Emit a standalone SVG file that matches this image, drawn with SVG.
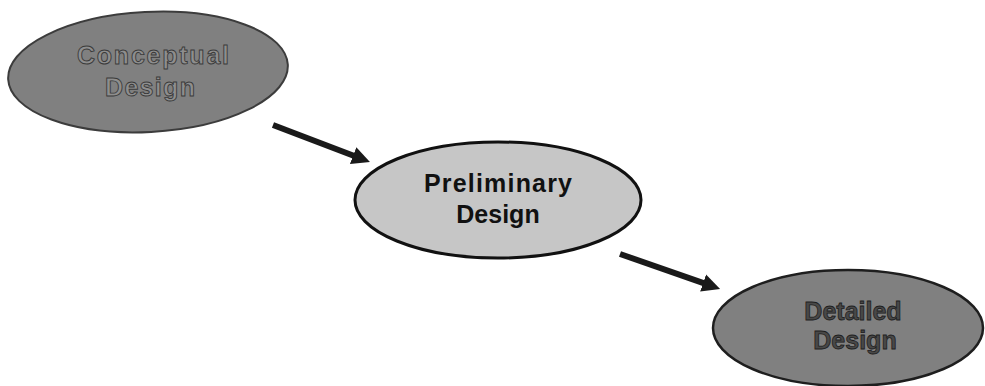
<svg xmlns="http://www.w3.org/2000/svg" width="985" height="386" viewBox="0 0 985 386">
  <style>
    .label { font-family: "Liberation Sans", Arial, sans-serif; font-weight: bold; font-size: 25px; text-anchor: middle; }
    .dark-node { fill: #808080; }
    .light-node { fill: #c6c6c6; stroke: #111; stroke-width: 3; }
    .flow { stroke: #1a1a1a; stroke-width: 6; fill: none; marker-end: url(#head); }
  </style>
  <defs>
    <marker id="head" markerUnits="userSpaceOnUse" markerWidth="20" markerHeight="20" refX="2" refY="10" orient="auto" viewBox="0 0 20 20">
      <path d="M0,1 L18,10 L0,19 Z" fill="#1a1a1a"/>
    </marker>
  </defs>

  <!-- Design stages -->
  <g id="conceptual-design">
    <ellipse class="dark-node" cx="148" cy="72" rx="140" ry="60" transform="rotate(-3 148 72)" stroke="#3c3c3c" stroke-width="2"/>
    <text class="label" x="153" y="64" fill="#8e8e8e" stroke="#3a3a3a" stroke-width="0.9" textLength="152" lengthAdjust="spacing">Conceptual</text>
    <text class="label" x="150" y="96" fill="#8e8e8e" stroke="#3a3a3a" stroke-width="0.9" textLength="90" lengthAdjust="spacing">Design</text>
  </g>

  <g id="preliminary-design">
    <ellipse class="light-node" cx="498" cy="200" rx="143" ry="58"/>
    <text class="label" x="498" y="192" fill="#111" font-size="26" textLength="148" lengthAdjust="spacing">Preliminary</text>
    <text class="label" x="498" y="223" fill="#111" font-size="26">Design</text>
  </g>

  <g id="detailed-design">
    <ellipse class="dark-node" cx="848" cy="328" rx="135" ry="58" stroke="#1e1e1e" stroke-width="2.5"/>
    <text class="label" x="853" y="320" fill="#484848" stroke="#1e1e1e" stroke-width="0.8" font-size="26">Detailed</text>
    <text class="label" x="855" y="349" fill="#484848" stroke="#1e1e1e" stroke-width="0.8" font-size="26">Design</text>
  </g>

  <!-- Connectors -->
  <g id="connectors">
    <line class="flow" x1="273" y1="125" x2="355" y2="156.3"/>
    <line class="flow" x1="620" y1="254" x2="705" y2="283.7"/>
  </g>
</svg>
